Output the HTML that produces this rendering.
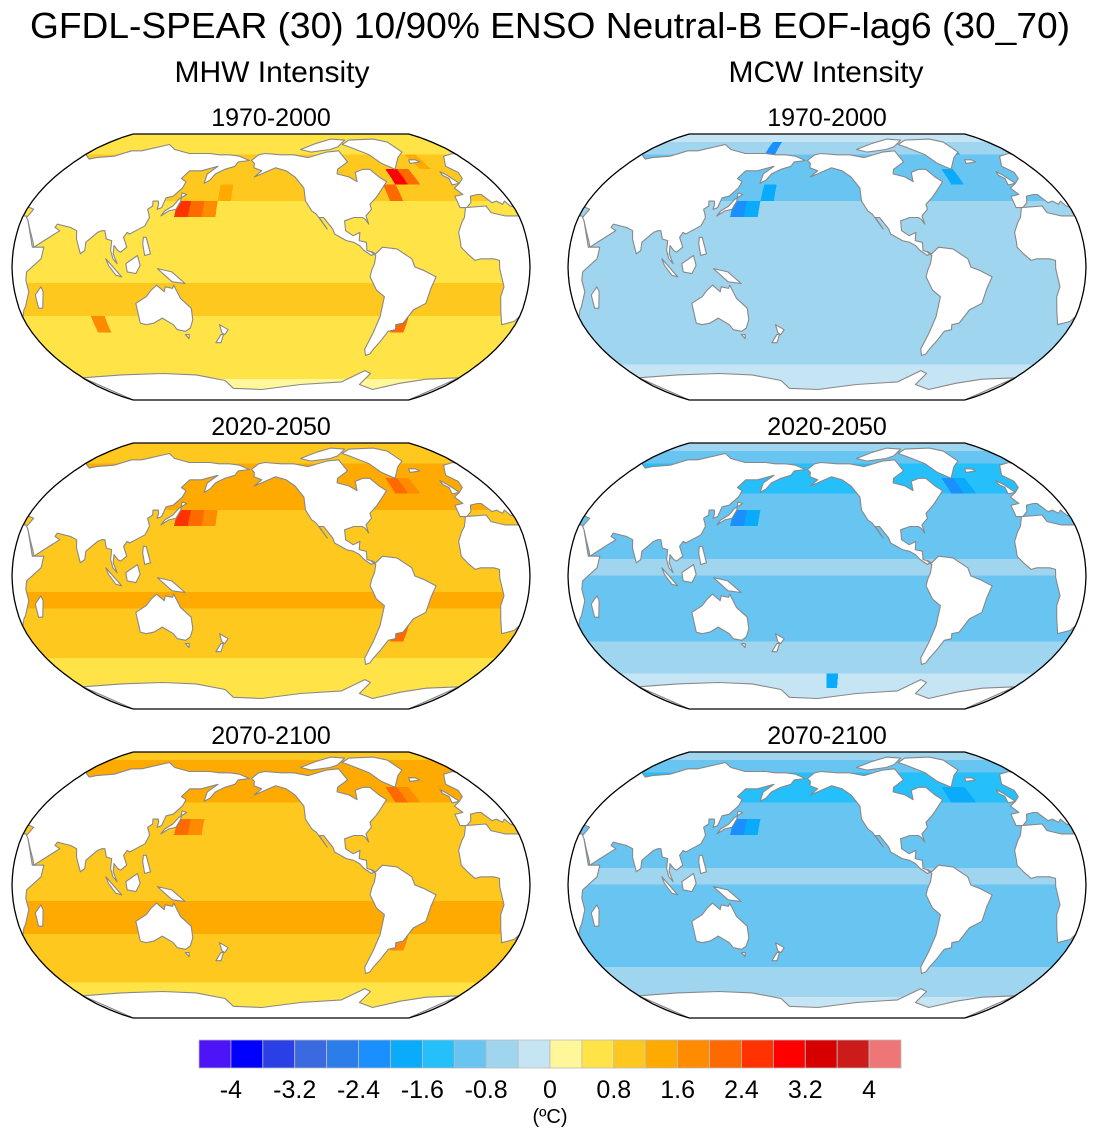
<!DOCTYPE html>
<html><head><meta charset="utf-8"><style>
html,body{margin:0;padding:0;background:#fff;}
svg{display:block;font-family:"Liberation Sans",sans-serif;}
</style></head><body>
<svg id="fig" width="1100" height="1140" viewBox="0 0 1100 1140" xmlns="http://www.w3.org/2000/svg">
<text x="550" y="38" font-size="36" text-anchor="middle" textLength="1040" lengthAdjust="spacingAndGlyphs">GFDL-SPEAR (30) 10/90% ENSO Neutral-B EOF-lag6 (30_70)</text>
<text x="272" y="82" font-size="30" text-anchor="middle">MHW Intensity</text>
<text x="826" y="82" font-size="30" text-anchor="middle">MCW Intensity</text>
<g id="panels"></g>
<g id="cbar"></g>
</svg>
<script>
// ---- data ----
const colors=["#4d14f8","#0000ff","#2a3fe6","#3b6ae0","#2b7de9","#1a8ffe","#0aabfb","#25c0fb","#68c5f2","#9fd5ef","#c5e5f5","#fff799","#ffe347","#ffc81f","#ffaa00","#ff8c00","#ff6a00","#ff3200","#ff0000","#d60000","#cc1b1b","#ef7676"];
const levels=[-4,-3.6,-3.2,-2.8,-2.4,-2,-1.6,-1.2,-0.8,-0.4,0,0.4,0.8,1.2,1.6,2,2.4,2.8,3.2,3.6,4];
const tickLabels=["-4","-3.2","-2.4","-1.6","-0.8","0","0.8","1.6","2.4","3.2","4"];
const panelTitles=["1970-2000","2020-2050","2070-2100"];
// zonal profiles, 10-degree bands from 90N to 90S
const mhw1970=[0.5,0.6,0.9,1.1,0.9,0.7,0.5,0.7,0.6,0.7,0.9,0.8,0.7,0.6,0.5,0.4,0.3,0.3];
const mhw2020=[1.0,1.1,1.3,1.4,1.2,1.0,0.9,1.1,1.0,1.0,1.2,1.1,1.0,0.9,0.7,0.6,0.5,0.5];
const mhw2070=[1.1,1.2,1.3,1.3,1.1,1.0,1.0,1.1,1.1,1.1,1.3,1.2,1.1,1.0,0.8,0.7,0.6,0.6];
const mcw1970=[-0.3,-0.6,-0.9,-1.0,-0.9,-0.7,-0.6,-0.5,-0.5,-0.6,-0.7,-0.7,-0.6,-0.5,-0.5,-0.4,-0.3,-0.3];
const mcw2020=[-0.7,-1.1,-1.3,-1.4,-1.2,-1.0,-0.9,-0.9,-0.7,-0.9,-1.0,-1.0,-0.9,-0.8,-0.6,-0.4,-0.3,-0.3];
const mcw2070=[-0.7,-1.1,-1.3,-1.3,-1.2,-1.0,-0.9,-0.9,-0.8,-0.9,-1.0,-1.0,-1.0,-0.9,-0.7,-0.5,-0.4,-0.4];
// hotspots [lon, lat(top of cell), value]
const mhw1970Hot=[[140,40,2.6],[150,40,2.2],[160,40,1.7],[-50,60,2.8],[-40,60,2.0],[-60,50,2.0],[-60,-30,2.2],[80,-30,1.6],[170,50,1.3],[-20,70,1.5]];
const mhw2020Hot=[[140,40,2.4],[150,40,2.0],[-50,60,2.2],[-40,60,1.8],[-60,-30,2.2],[160,40,1.7]];
const mhw2070Hot=[[140,40,2.2],[150,40,1.8],[-50,60,2.0],[-40,60,1.8],[-60,-30,1.8]];
const mcw1970Hot=[[140,40,-2.4],[150,40,-2.0],[160,50,-1.8],[-50,60,-1.8],[-30,80,-2.0],[150,80,-2.2]];
const mcw2020Hot=[[140,40,-2.4],[150,40,-1.9],[-50,60,-2.2],[-40,60,-1.8],[-150,-60,-1.8]];
const mcw2070Hot=[[140,40,-2.2],[150,40,-1.8],[-40,60,-2.0],[-50,60,-1.8]];

const LON0=210;
const XT=[1,.9986,.9954,.99,.9822,.973,.96,.9427,.9216,.8962,.8679,.835,.7986,.7597,.7186,.6732,.6213,.5722,.5322];
const YT=[0,.062,.124,.186,.248,.31,.372,.434,.4958,.5571,.6176,.6769,.7346,.7903,.8435,.8936,.9394,.9761,1];
function interp(t,lat){const a=Math.min(Math.abs(lat),90)/5,i=Math.min(Math.floor(a),17),f=a-i;return t[i]+(t[i+1]-t[i])*f;}
function color(v){let i=0;while(i<levels.length&&v>=levels[i])i++;return colors[i];}

const land={
na:[[-168,66],[-162,70],[-156,71],[-140,70],[-128,70],[-115,68],[-95,72],[-82,73],[-80,65],[-92,60],[-94,57],[-85,55],[-80,52],[-78,58],[-70,60],[-64,60],[-60,55],[-56,52],[-66,45],[-70,42],[-76,38],[-76,35],[-81,31],[-80,26],[-82,29],[-84,30],[-90,30],[-97,28],[-97,22],[-92,19],[-87,21],[-88,16],[-83,15],[-83,10],[-79,9],[-78,8],[-80,7],[-85,10],[-88,13],[-92,15],[-97,16],[-105,20],[-106,23],[-112,30],[-115,30],[-110,23],[-117,32],[-120,34],[-124,40],[-124,48],[-130,55],[-137,59],[-146,61],[-152,59],[-158,57],[-164,55],[-158,59],[-165,61],[-165,64]],
arc:[[-120,74],[-100,79],[-80,83],[-65,82],[-80,76],[-90,74],[-110,72]],
gr:[[-73,78],[-60,82],[-30,83],[-20,80],[-20,72],[-30,68],[-42,60],[-50,64],[-55,70],[-68,76]],
ice:[[-24,64],[-14,65],[-16,66.5],[-22,66.5]],
uk:[[-5,50],[2,51],[-2,56],[-5,58.5],[-6,56],[-3,54]],
sa:[[-80,9],[-77,8],[-72,12],[-62,11],[-52,5],[-50,0],[-44,-2],[-35,-6],[-38,-13],[-40,-22],[-48,-26],[-53,-34],[-58,-35],[-57,-38],[-62,-39],[-65,-45],[-68,-50],[-69,-53],[-72,-54],[-75,-50],[-73,-40],[-71,-30],[-70,-18],[-76,-14],[-81,-6],[-80,-2],[-78,2],[-77,7]],
eu:[[-10,36],[-9,43],[-2,44],[-5,48],[2,51],[8,54],[10,58],[5,62],[15,69],[28,71],[40,67],[45,68],[60,69],[70,73],[80,73],[100,78],[112,74],[130,71],[150,71],[160,70],[170,70],[180,69],[190,66],[180,65],[178,62],[170,60],[163,57],[160,53],[156,51],[156,57],[163,62],[150,59],[140,59],[136,54],[141,52],[140,48],[135,43],[130,42],[129,36],[126,35],[126,38],[125,40],[121,40],[122,37],[119,35],[121,32],[122,30],[120,25],[114,22],[110,20],[108,21],[106,18],[109,12],[105,9],[103,10],[100,13],[100,8],[103,2],[100,5],[98,10],[98,16],[94,17],[92,22],[90,22],[87,21],[80,15],[80,10],[77,8],[73,17],[72,22],[67,24],[62,25],[57,26],[56,24],[60,22],[52,17],[44,12],[43,15],[39,22],[35,28],[33,30],[35,35],[28,37],[26,40],[23,38],[20,40],[16,39],[12,44],[9,44],[3,43],[0,39],[-5,36]],
af:[[-17,15],[-17,21],[-13,27],[-10,30],[-6,36],[10,37],[11,33],[20,31],[32,31],[35,28],[43,12],[51,12],[50,5],[40,-3],[39,-8],[40,-15],[35,-24],[33,-26],[28,-33],[20,-35],[18,-32],[15,-27],[12,-18],[13,-12],[9,-1],[9,4],[5,5],[-4,5],[-8,4],[-13,8],[-17,12]],
mad:[[44,-25],[47,-25],[50,-15],[49,-12],[44,-17]],
au:[[114,-22],[114,-34],[118,-35],[124,-34],[131,-31],[138,-35],[140,-38],[146,-39],[150,-37],[153,-32],[153,-25],[146,-19],[142,-11],[141,-13],[136,-12],[135,-15],[130,-11],[126,-14],[122,-18]],
nz1:[[172,-35],[178,-38],[175,-41],[173,-40]],nz2:[[174,-41],[171,-46],[167,-46],[172,-41]],
jp:[[130,31],[135,34],[140,35],[142,40],[141,45],[145,44],[140,41],[137,37],[132,34]],
bo:[[109,2],[117,7],[119,1],[116,-4],[110,-3]],
su:[[95,5],[106,-6],[102,-5],[97,1]],
ng:[[131,-1],[141,-3],[150,-10],[141,-9],[136,-5]],
ph:[[120,18],[122,18],[126,8],[122,7],[120,14]],
tas:[[145,-41],[148,-41],[147,-43.5]],
ant:[[30,-69],[70,-67],[110,-66],[140,-67],[165,-71],[170,-77],[200,-78],[240,-74],[280,-72],[295,-64],[302,-66],[300,-74],[320,-78],[340,-73],[360,-70],[390,-69],[390,-90],[30,-90]]
};

const NS="http://www.w3.org/2000/svg";
function el(tag,attrs,parent){const e=document.createElementNS(NS,tag);for(const k in attrs)e.setAttribute(k,attrs[k]);parent.appendChild(e);return e;}
function outline(p){const r=[];for(let lat=90;lat>=-90;lat-=2.5){r.push([p.cx+p.hw*interp(XT,lat),p.cy-Math.sign(lat)*p.hh*interp(YT,lat)]);}
 for(let lat=-90;lat<=90;lat+=2.5){r.push([p.cx-p.hw*interp(XT,lat),p.cy-Math.sign(lat)*p.hh*interp(YT,lat)]);}
 return r.map(q=>q[0].toFixed(1)+","+q[1].toFixed(1)).join(" ");}

const panels=[
 {cx:271,cy:267,prof:mhw1970,hot:mhw1970Hot,t:0,name:"mhw-1970-2000"},
 {cx:271,cy:576,prof:mhw2020,hot:mhw2020Hot,t:1,name:"mhw-2020-2050"},
 {cx:271,cy:885,prof:mhw2070,hot:mhw2070Hot,t:2,name:"mhw-2070-2100"},
 {cx:827,cy:267,prof:mcw1970,hot:mcw1970Hot,t:0,name:"mcw-1970-2000"},
 {cx:827,cy:576,prof:mcw2020,hot:mcw2020Hot,t:1,name:"mcw-2020-2050"},
 {cx:827,cy:885,prof:mcw2070,hot:mcw2070Hot,t:2,name:"mcw-2070-2100"}];
const root=document.getElementById("panels");
panels.forEach((p,pi)=>{
 p.hw=259;p.hh=133;
 const g=el("g",{},root);
 
 
 const tt=el("text",{x:p.cx,y:p.cy-141,"font-size":25,"text-anchor":"middle"},g);tt.textContent=panelTitles[p.t];
 
 
 const cid="clip"+pi;const cp=el("clipPath",{id:cid},g);el("polygon",{points:outline(p)},cp);
 const cells=el("g",{"clip-path":"url(#"+cid+")","shape-rendering":"crispEdges"},g);
 
 
 const P=(lo,la)=>[p.cx+p.hw*interp(XT,la)*lo/180,p.cy-Math.sign(la)*p.hh*interp(YT,la)];
 for(let r=0;r<18;r++){const lat1=90-r*10,lat2=lat1-10;
  for(let c=0;c<36;c++){const lon=LON0-180+c*10;
   let v=p.prof[r];
   for(const h of p.hot){let hl=((h[0]-lon)%360+360)%360;if(hl===0&&h[1]===lat1)v=h[2];}
   const dl=lon-LON0;
   const q=[P(dl,lat1),P(dl+10,lat1),P(dl+10,(lat1+lat2)/2),P(dl+10,lat2),P(dl,lat2),P(dl,(lat1+lat2)/2)];
   const cell=el("polygon",{points:q.map(z=>z[0].toFixed(1)+","+z[1].toFixed(1)).join(" "),fill:color(v),stroke:color(v),"stroke-width":0.6},cells);
   
   
  }}
 const lg=el("g",{"clip-path":"url(#"+cid+")"},g);
 
 
 for(const k in land){for(const sh of [-360,0,360]){
   const pts=land[k].map(([lo,la])=>P(lo-LON0+sh,la));
   if(pts.every(z=>z[0]<p.cx-p.hw-5)||pts.every(z=>z[0]>p.cx+p.hw+5))continue;
   const poly=el("polygon",{points:pts.map(z=>z[0].toFixed(1)+","+z[1].toFixed(1)).join(" "),fill:"#fff",stroke:"#888","stroke-width":1.1,"stroke-linejoin":"round"},lg);
   
   
 }}
 const ol=el("polygon",{points:outline(p),fill:"none",stroke:"#000","stroke-width":1.3},g);
 
 
});
// colorbar
const cb=document.getElementById("cbar");
const cbX=199,cbW=702,cbY=1040,cbH=28,bw=cbW/colors.length;
colors.forEach((c,i)=>{const r=el("rect",{x:cbX+i*bw,y:cbY,width:bw,height:cbH,fill:c,stroke:"#bbb","stroke-width":0.8},cb);
 
 });
tickLabels.forEach((t,i)=>{const x=cbX+bw*(1+2*i);const tx=el("text",{x:x,y:1098,"font-size":25,"text-anchor":"middle"},cb);tx.textContent=t;
 
 });
const u=el("text",{x:550,y:1123,"font-size":20,"text-anchor":"middle"},cb);u.textContent="(ºC)";


</script>
</body></html>
